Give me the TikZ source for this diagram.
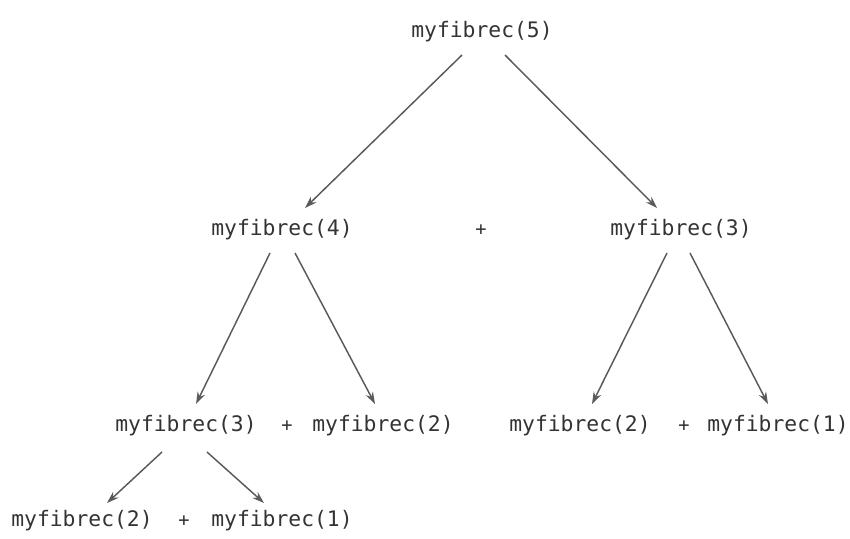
\documentclass[tikz,border=0pt]{standalone}
\usepackage{fontspec}
\setmonofont{DejaVu Sans Mono}
\usetikzlibrary{calc,arrows.meta}
\definecolor{txt}{HTML}{333333}
\definecolor{edge}{HTML}{5A5A5A}
\tikzset{
  call/.style={font=\ttfamily\fontsize{16}{18}\selectfont, text=txt, inner sep=0pt, anchor=center},
  plus/.style={font=\ttfamily\fontsize{14}{16}\selectfont, text=txt, inner sep=0pt},
  arr/.style={draw=edge, line width=1.1pt, -{Stealth[length=9pt,width=6pt]}}
}
\begin{document}
\begin{tikzpicture}[x=0.75pt, y=-0.75pt]
\useasboundingbox (0,0) rectangle (850,539);
% recursion tree
\node[call] (f5) at (482,32) {myfibrec(5)};
\node[call] (f4) at (282,230) {myfibrec(4)};
\node[plus] (p1) at (481,230) {+};
\node[call] (f3) at (681,230) {myfibrec(3)};
\node[call] (f4a) at (186,426) {myfibrec(3)};
\node[plus] (p2) at (287,426) {+};
\node[call] (f4b) at (383,426) {myfibrec(2)};
\node[call] (f3a) at (580,426) {myfibrec(2)};
\node[plus] (p3) at (684,426) {+};
\node[call] (f3b) at (778,426) {myfibrec(1)};
\node[call] (g1) at (82,521) {myfibrec(2)};
\node[plus] (p4) at (184,521) {+};
\node[call] (g2) at (282,521) {myfibrec(1)};
% calls
\draw[arr] ($(f5)+(-20,23)$) -- ($(f4)+(23,-22)$);
\draw[arr] ($(f5)+(23,23)$) -- ($(f3)+(-24,-22)$);
\draw[arr] ($(f4)+(-12,23)$) -- ($(f4a)+(10,-22)$);
\draw[arr] ($(f4)+(13,23)$) -- ($(f4b)+(-8,-22)$);
\draw[arr] ($(f3)+(-14,23)$) -- ($(f3a)+(12,-22)$);
\draw[arr] ($(f3)+(9,23)$) -- ($(f3b)+(-10,-22)$);
\draw[arr] ($(f4a)+(-24,26)$) -- ($(g1)+(25,-18)$);
\draw[arr] ($(f4a)+(21,26)$) -- ($(g2)+(-18,-18)$);
\end{tikzpicture}
\end{document}
